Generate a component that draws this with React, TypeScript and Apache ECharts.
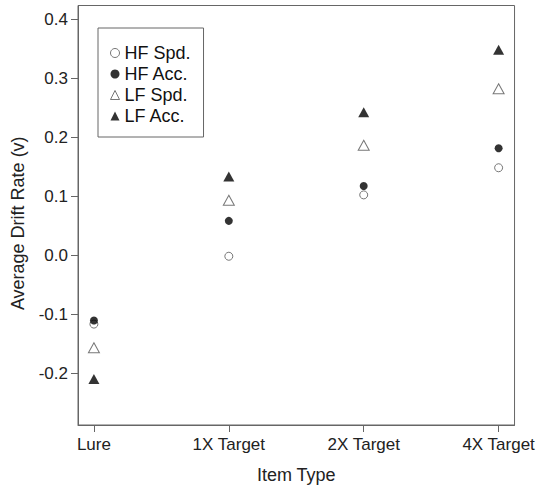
import React, { useEffect, useRef } from "react";
import * as echarts from "echarts";

const categories = ["Lure", "1X Target", "2X Target", "4X Target"];
const hfSpd = [-0.117, -0.002, 0.102, 0.148];
const hfAcc = [-0.111, 0.058, 0.117, 0.181];
const lfSpd = [-0.157, 0.093, 0.186, 0.282];
const lfAcc = [-0.21, 0.133, 0.242, 0.348];
const yTicks = [-0.2, -0.1, 0.0, 0.1, 0.2, 0.3, 0.4];
const xTicks = [0, 1, 2, 3];

const FONT = "'Liberation Sans', Arial, sans-serif";

export default function App() {
  const ref = useRef<HTMLDivElement>(null);
  useEffect(() => {
    if (!ref.current) return;
    const chart = echarts.init(ref.current, null, { renderer: "svg" });
    const toPairs = (arr: number[]) => arr.map((v, i) => [i, v]);
    const openStyle = { color: "#ffffff", borderColor: "#555555", borderWidth: 1 };
    const fillStyle = { color: "#000000", borderWidth: 0 };
    chart.setOption({
      animation: false,
      textStyle: { fontFamily: FONT },
      grid: {
        left: 78,
        right: 22,
        top: 5.5,
        bottom: 60.7,
        show: true,
        borderColor: "#666666",
        borderWidth: 1,
        containLabel: false,
      },
      legend: {
        orient: "vertical",
        left: 98,
        top: 28,
        borderColor: "#666666",
        borderWidth: 1,
        padding: [16, 13, 12, 12],
        itemWidth: 9,
        itemHeight: 9,
        itemGap: 3,
        itemTextGap: 8,
        itemStyle: { borderWidth: 1 },
        textStyle: { fontFamily: FONT, fontSize: 18, color: "#111111" },
        data: ["HF Spd.", "HF Acc.", "LF Spd.", "LF Acc."],
      },
      xAxis: {
        type: "value",
        min: -0.118,
        max: 3.118,
        name: "Item Type",
        nameLocation: "middle",
        nameGap: 41,
        nameTextStyle: { fontFamily: FONT, fontSize: 18, color: "#222222" },
        splitLine: { show: false },
        axisLine: { show: true, onZero: false, lineStyle: { color: "#666666" } },
        axisTick: {
          show: true,
          length: 7,
          lineStyle: { color: "#666666" },
          customValues: xTicks,
        },
        axisLabel: {
          margin: 11,
          fontSize: 17,
          color: "#222222",
          fontFamily: FONT,
          customValues: xTicks,
          formatter: (v: number) => categories[Math.round(v)] ?? "",
        },
      },
      yAxis: {
        type: "value",
        min: -0.288,
        max: 0.423,
        name: "Average Drift Rate (v)",
        nameLocation: "middle",
        nameGap: 51,
        nameTextStyle: {
          fontFamily: FONT,
          fontSize: 18,
          color: "#222222",
          padding: [0, 16, 0, 0],
        },
        splitLine: { show: false },
        axisLine: { show: true, onZero: false, lineStyle: { color: "#666666" } },
        axisTick: {
          show: true,
          length: 7,
          lineStyle: { color: "#666666" },
          customValues: yTicks,
        },
        axisLabel: {
          margin: 10,
          fontSize: 17,
          color: "#222222",
          fontFamily: FONT,
          customValues: yTicks,
          formatter: (v: number) => v.toFixed(1),
        },
      },
      series: [
        {
          name: "HF Spd.",
          type: "scatter",
          symbol: "circle",
          symbolSize: 8,
          itemStyle: openStyle,
          data: toPairs(hfSpd),
        },
        {
          name: "HF Acc.",
          type: "scatter",
          symbol: "circle",
          symbolSize: 8,
          itemStyle: fillStyle,
          data: toPairs(hfAcc),
        },
        {
          name: "LF Spd.",
          type: "scatter",
          symbol: "triangle",
          symbolSize: [11, 10],
          itemStyle: openStyle,
          data: toPairs(lfSpd),
        },
        {
          name: "LF Acc.",
          type: "scatter",
          symbol: "triangle",
          symbolSize: [11, 10],
          itemStyle: fillStyle,
          data: toPairs(lfAcc),
        },
      ],
    });
    return () => chart.dispose();
  }, []);
  return <div ref={ref} style={{ width: 538, height: 489, position: "absolute", left: 0, top: 0 }} />;
}
